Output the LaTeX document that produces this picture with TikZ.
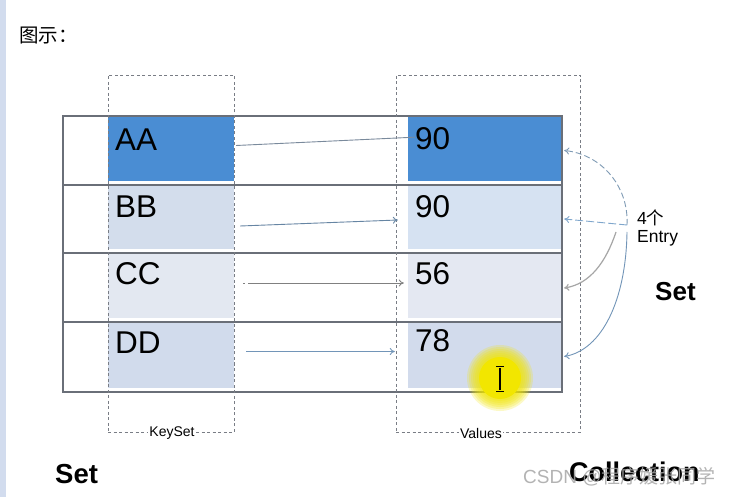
\documentclass[tikz,border=0pt]{standalone}
\usepackage{fontspec}
\setmainfont{Liberation Sans}
\newfontfamily\cjk{Noto Sans CJK SC}
\usetikzlibrary{arrows.meta,calc}
\definecolor{dkblue}{HTML}{4A8DD3}
\definecolor{kbB}{HTML}{D3DDEC}
\definecolor{kbC}{HTML}{E3E8F1}
\definecolor{kbD}{HTML}{D1DBEC}
\definecolor{vbB}{HTML}{D6E2F2}
\definecolor{vbC}{HTML}{E4E8F2}
\definecolor{vbD}{HTML}{D2DBEC}
\definecolor{tline}{HTML}{6A6F78}
\definecolor{stripe}{HTML}{D2DCEE}
\definecolor{curveblue}{HTML}{7FA6CC}
\definecolor{aline}{HTML}{7A8A9C}
\definecolor{hilite}{HTML}{F2E600}
\begin{document}
\begin{tikzpicture}[x=1pt,y=-1pt,
  cell/.style={draw=none,inner sep=0pt,minimum width=126pt,minimum height=65pt},
  vcell/.style={draw=none,inner sep=0pt,minimum width=154pt,minimum height=65pt},
  big/.style={font=\fontsize{31.5}{34}\selectfont,anchor=base west,inner sep=0pt},
  frame/.style={draw=tline!90,dash pattern=on 3pt off 2.5pt,line width=0.8pt,inner sep=0pt},
  small/.style={font=\fontsize{14}{16}\selectfont,fill=white,inner sep=1pt},
  arr/.style={line width=0.9pt,-{To[length=5pt,width=7pt]}},
  bold/.style={font=\bfseries\fontsize{27}{30}\selectfont,anchor=base west,inner sep=0pt},
  entry/.style={font=\fontsize{17.5}{20}\selectfont,anchor=base west,inner sep=0pt}]
\useasboundingbox (0,0) rectangle (729,497);
\fill[white] (0,0) rectangle (729,497);
\fill[stripe] (0,0) rectangle (6,497);
\node[anchor=base west,inner sep=0pt,font=\cjk\fontsize{19.5}{22}\selectfont] (title) at (19,43) {图示：};
% key cells
\node[cell,fill=dkblue] (k1) at (171,148.5) {};
\node[cell,fill=kbB] (k2) at (171,217) {};
\node[cell,fill=kbC] (k3) at (171,286) {};
\node[cell,fill=kbD] (k4) at (171,355.5) {};
% value cells
\node[vcell,fill=dkblue] (v1) at (485,148.5) {};
\node[vcell,fill=vbB] (v2) at (485,217) {};
\node[vcell,fill=vbC] (v3) at (485,286) {};
\node[vcell,fill=vbD] (v4) at (485,355.5) {};
% table lines
\draw[tline,line width=1.1pt] (63,116) rectangle (562,392);
\draw[tline,line width=1.1pt] (63,185) -- (562,185);
\draw[tline,line width=1.1pt] (63,253) -- (562,253);
\draw[tline,line width=1.1pt] (63,322) -- (562,322);
% dashed frames
\node[frame,minimum width=126pt,minimum height=357pt] (ks) at (171,253.5) {};
\node[frame,minimum width=184pt,minimum height=357pt] (vs) at (488,253.5) {};
\node[small] (kslabel) at (172,433) {KeySet};
\node[small] (vslabel) at (481,433) {Values};
% texts
\node[big] (tk1) at (115,151) {AA};
\node[big] (tk2) at (115,218) {BB};
\node[big] (tk3) at (115,285) {CC};
\node[big] (tk4) at (115,353) {DD};
\node[big] (tv1) at (415,150) {90};
\node[big] (tv2) at (415,218) {90};
\node[big] (tv3) at (415,285) {56};
\node[big] (tv4) at (415,352) {78};
% key -> value arrows
\draw[line width=0.9pt,color=aline] ($(k1.east)+(2,-3)$) -- ($(tv1.west)+(0,-2)$);
\draw[arr,color=curveblue!80!black] ($(k2.east)+(6,9)$) -- ($(v2.west)+(-10,3)$);
\draw[arr,color=gray,dash pattern=on 2pt off 3pt on 300pt off 0pt] ($(k3.east)+(9,-3)$) -- ($(v3.west)+(-4,-3)$);
\draw[arr,color=curveblue!90!black] ($(k4.east)+(12,-4)$) -- ($(v4.west)+(-13,-4)$);
% entry curves
\coordinate (e) at (627,225);
\draw[arr,curveblue!70!gray,dash pattern=on 6pt off 3pt] (e) .. controls (629,185) and (600,154) .. ($(v1.east)+(2,2)$);
\draw[arr,curveblue,dash pattern=on 8pt off 3pt] (e) -- ($(v2.east)+(2,2)$);
\draw[arr,gray!70,line width=1.2pt] (616,232) .. controls (606,262) and (590,284) .. ($(v3.east)+(2,2)$);
\draw[arr,curveblue!90!black] (627,232) .. controls (626,300) and (602,350) .. ($(v4.east)+(2,1)$);
\node[entry] (n4) at (637,225) {4\cjk 个};
\node[entry] (entry) at (637,243) {Entry};
\node[bold,font=\bfseries\fontsize{26}{30}\selectfont] (set1) at (655,301) {Set};
\node[bold,font=\bfseries\fontsize{27.5}{30}\selectfont] (set2) at (55,483) {Set};
% cursor highlight
\foreach \r in {33,31,29,27,25,23} {\fill[hilite,opacity=0.22] (500,378) circle (\r);}
\fill[hilite] (500,378) circle (21);
\draw[line width=1.6pt] (500,368) -- (500,390);
\draw[line width=1pt] (496,367) -- (504,367) (496,391) -- (504,391);
\node[bold] (coll) at (569,481) {Collection};
\node[anchor=base west,inner sep=0pt,text=gray!70,opacity=0.85,font=\fontsize{19}{22}\selectfont] (wm) at (523,483) {CSDN @\cjk 程序媛张同学};
\end{tikzpicture}
\end{document}
